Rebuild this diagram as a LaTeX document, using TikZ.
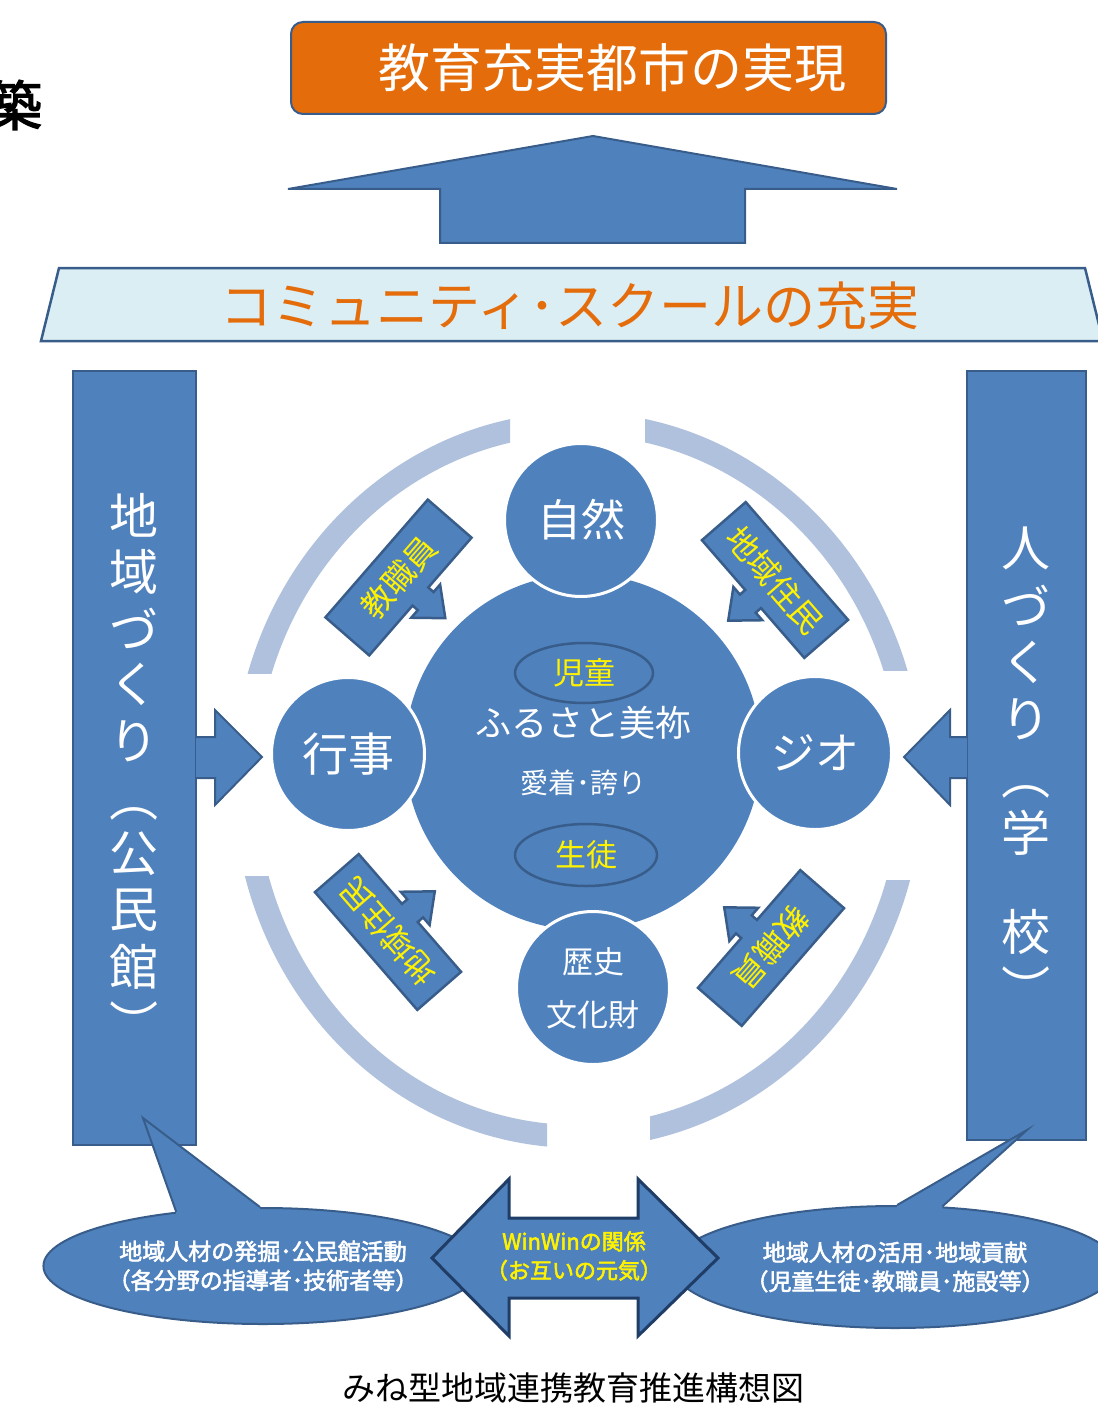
\documentclass[tikz,border=0pt]{standalone}
\usepackage{fontspec}
\setmainfont[AutoFakeBold=2.5]{Noto Sans CJK JP}
\usetikzlibrary{shapes.geometric,calc}
\definecolor{mblue}{HTML}{4F81BD}
\definecolor{mline}{HTML}{385D8A}
\definecolor{mnavy}{HTML}{1F3D66}
\definecolor{morange}{HTML}{E46C0A}
\definecolor{mpale}{HTML}{DBEEF4}
\definecolor{mring}{HTML}{B0C1DD}
\newcommand{\fsz}[1]{\fontsize{#1}{#1}\selectfont}
\newcommand{\vop}{\rotatebox{-90}{（}}
\newcommand{\vcl}{\rotatebox{-90}{）}}
% rotated box with a short arrow under the text
\newcommand{\callbox}[3]{%
  \begin{scope}[shift={(#1)},rotate=#2]
    \filldraw[callshape] (-78pt,29pt) -- (78pt,29pt) -- (78pt,-29pt) -- (12pt,-29pt) -- (12pt,-36pt) -- (22pt,-36pt)
      -- (0pt,-62pt) -- (-22pt,-36pt) -- (-12pt,-36pt) -- (-12pt,-29pt) -- (-78pt,-29pt) -- cycle;
    \node[calltxt,transform shape] at (0pt,0pt) {#3};
  \end{scope}}
\tikzset{
  callshape/.style={fill=mblue,draw=mline,line width=2.5pt,line join=miter},
  calltxt/.style={text=yellow,font=\fsz{32},inner sep=0pt},
  colbox/.style={fill=mblue,draw=mline,line width=2pt,inner sep=0pt},
  vtxt/.style={text=white,font=\fsz{49},inner sep=0pt},
  circ/.style={circle,fill=mblue,draw=white,line width=3pt,minimum size=153pt,inner sep=0pt,text=white},
  pill/.style={ellipse,draw=mline,line width=2.5pt,minimum width=138pt,minimum height=60pt,inner sep=0pt,text=yellow,font=\fsz{31}},
  bubble/.style={ellipse,fill=mblue,draw=mline,line width=2pt,inner sep=0pt,text=white,align=center,font=\bfseries\fontsize{23}{29}\selectfont},
  ring/.style={mring,line width=23pt}
}
\begin{document}
\begin{tikzpicture}[x=1pt,y=-1pt]
\useasboundingbox (0,0) rectangle (1097,1415);
\node[inner sep=0pt,font=\bfseries\fsz{54}] (tsuki) at (15,105) {築};
% top goal and arrow
\node[fill=morange,draw=mline,line width=2pt,rounded corners=12pt,minimum width=595pt,minimum height=92pt] (goal) at (588.5,68) {};
\node[text=white,font=\fsz{52},inner sep=0pt] (goaltxt) at (612,68) {教育充実都市の実現};
\filldraw[fill=mblue,draw=mline,line width=2pt] (288,189) -- (593,136) -- (897,189) -- (745,189) -- (745,243) -- (440,243) -- (440,189) -- cycle;
\filldraw[fill=mpale,draw=mline,line width=2.5pt] (59,268) -- (1085,268) -- (1103,341) -- (41,341) -- cycle;
\node[text=morange,font=\fsz{52},inner sep=0pt] (cs) at (570,306) {コミュニティ･スクールの充実};
% side columns
\node[colbox,minimum width=123pt,minimum height=774pt] (lcol) at (134.5,758) {};
\node[colbox,minimum width=119pt,minimum height=769pt] (rcol) at (1026.5,755.5) {};
\foreach \c/\y in {地/515,域/571.5,づ/628,く/684.5,り/741,\vop/797.5,公/854,民/910.5,館/967,\vcl/1023.5}
  \node[vtxt] (l\y) at (134,\y) {\c};
\foreach \c/\y in {人/548,づ/605,く/662,り/719,\vop/776,学/833,校/932,\vcl/989}
  \node[vtxt] (r\y) at (1026,\y) {\c};
\filldraw[colbox] (196,737) -- (215,737) -- (215,710) -- (262,757) -- (215,805) -- (215,778) -- (196,778);
\filldraw[colbox] (967,737) -- (950,737) -- (950,710) -- (904,757) -- (950,805) -- (950,778) -- (967,778);
% ring of four arcs
\foreach \xa/\ya/\xb/\yb in {0/0/510/673, 645/0/1097/670, 0/876/547/1415, 650/880/1097/1415}{
  \begin{scope}
    \clip (\xa,\ya) rectangle (\xb,\yb);
    \draw[ring] (578,780) ellipse [x radius=333.5,y radius=356.5];
  \end{scope}}
% centre
\node[circle,fill=mblue,minimum size=356pt,inner sep=0pt] (furusato) at (583,752) {};
\node[circ,font=\fsz{44}] (nature) at (581,520) {自然};
\node[circ,font=\fsz{46}] (event) at (348,754) {行事};
\node[circ,font=\fsz{44}] (geo) at (815,753) {ジオ};
\node[circ,align=center,font=\fontsize{31}{53}\selectfont] (history) at (593,988) {歴史\\文化財};
\node[pill] (jido) at (584,673) {児童};
\node[pill,minimum width=142pt,minimum height=62pt] (seito) at (586,855) {生徒};
\node[text=white,font=\fsz{36},inner sep=0pt] (mine) at (583,723) {ふるさと美祢};
\node[text=white,font=\fsz{28},inner sep=0pt] (pride) at (583,783) {愛着･誇り};
\callbox{398.5,577.5}{49}{教職員}
\callbox{775,580}{-49}{地域住民}
\callbox{388,932}{131}{地域住民}
\callbox{771,948}{229}{教職員}
% bottom bubbles
\node[bubble,minimum width=430pt,minimum height=116pt] (lbub) at (263,1266) {地域人材の発掘･公民館活動\\（各分野の指導者･技術者等）};
\coordinate (ltip) at (143,1118);
\fill[mblue] (ltip) -- (lbub.148) -- ($(lbub.148)+(0,5)$) -- ($(lbub.93)+(0,5)$) -- (lbub.93) -- cycle;
\draw[mline,line width=2pt,line join=miter] (lbub.148) -- (ltip) -- (lbub.93);
\node[bubble,minimum width=444pt,minimum height=122pt] (rbub) at (895,1267) {地域人材の活用･地域貢献\\（児童生徒･教職員･施設等）};
\coordinate (rtip) at (1027,1130);
\fill[mblue] (rtip) -- (rbub.88) -- ($(rbub.88)+(0,5)$) -- ($(rbub.52)+(0,5)$) -- (rbub.52) -- cycle;
\draw[mline,line width=2pt,line join=miter] (rbub.88) -- (rtip) -- (rbub.52);
\filldraw[fill=mblue,draw=mnavy,line width=3pt,line join=miter] (432,1258) -- (509,1179) -- (509,1218) -- (638,1218) -- (638,1179)
  -- (718,1258) -- (638,1336) -- (638,1298) -- (509,1298) -- (509,1336) -- cycle;
\node[text=yellow,align=center,inner sep=0pt,font=\bfseries\fontsize{22}{29}\selectfont] (winwin) at (574,1256) {WinWinの関係\\（お互いの元気）};
\node[inner sep=0pt,font=\fsz{33}] (caption) at (573,1388) {みね型地域連携教育推進構想図};
\end{tikzpicture}
\end{document}
